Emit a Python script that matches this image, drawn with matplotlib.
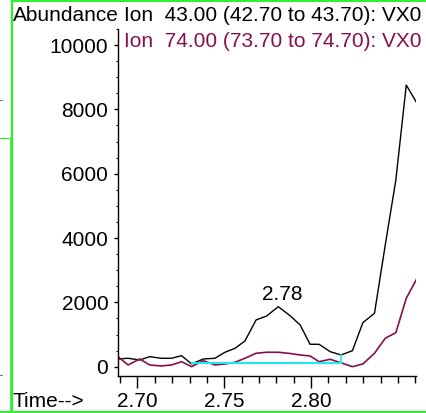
import matplotlib
matplotlib.use("Agg")
import matplotlib.pyplot as plt
from matplotlib.lines import Line2D
from matplotlib.ticker import MultipleLocator, FixedLocator

plt.rcParams["font.family"] = ["Liberation Sans", "DejaVu Sans"]

# retention time (min)
times = [2.6888, 2.6946, 2.7013, 2.7071, 2.7138, 2.7196, 2.7254, 2.7312, 2.7379, 2.7446,
         2.7504, 2.7562, 2.7619, 2.7683, 2.7744, 2.7811, 2.7879, 2.7937, 2.7994, 2.8046,
         2.8110, 2.8173, 2.8238, 2.8298, 2.8365, 2.8427, 2.8488, 2.8548, 2.8610]
ion43 = [239, 261, 208, 311, 261, 261, 342, 84, 239, 261,
         448, 572, 799, 1452, 1576, 1865, 1585, 1296, 696, 696,
         466, 364, 497, 1368, 1660, 3783, 5804, 8757, 8188]
ion74 = [311, 53, 239, 53, 22, 53, 155, 0, 187, 53,
         84, 137, 261, 417, 448, 448, 410, 364, 333, 155,
         230, 118, 0, 84, 417, 883, 1057, 2126, 2748]

# integration baseline of the 2.78 peak
base_t = [2.7312, 2.8175]
base_v = 106
base_end_v = 364

peak_label = "2.78"
legend_43 = "Ion  43.00 (42.70 to 43.70): VX0"
legend_74 = "Ion  74.00 (73.70 to 74.70): VX0"
yticks = [0, 2000, 4000, 6000, 8000, 10000]
xticks = [2.70, 2.75, 2.80]

PURPLE = "#85104f"
CYAN = "#20e8f0"
GREEN = "#2cf02c"
FS = 15

fig = plt.figure(figsize=(4.26, 4.13), dpi=100)
ax = fig.add_axes([0.277, 0.0896, 0.6995, 0.8402])

ax.plot(times, ion43, color="black", lw=1.0)
ax.plot(times, ion74, color=PURPLE, lw=1.2)
ax.plot(base_t, [base_v, base_v], color=CYAN, lw=1.5)
ax.plot([base_t[1], base_t[1]], [base_v, base_end_v], color=CYAN, lw=1.2)

pk = ion43.index(max(ion43[10:20]))
ax.annotate(peak_label, xy=(times[pk], ion43[pk]), xytext=(3, 5),
            textcoords="offset points", ha="center", va="baseline", fontsize=FS)

ax.set_xlim(2.6888, 2.8604)
ax.set_ylim(-290, 10500)
for s in ("top", "right"):
    ax.spines[s].set_visible(False)
ax.spines["left"].set_linewidth(1.0)
ax.spines["bottom"].set_linewidth(1.0)

ax.xaxis.set_major_locator(FixedLocator(xticks))
ax.xaxis.set_major_formatter(plt.FuncFormatter(lambda v, p: f"{v:.2f}"))
ax.xaxis.set_minor_locator(MultipleLocator(0.01))
ax.yaxis.set_major_locator(FixedLocator(yticks))
ax.yaxis.set_minor_locator(MultipleLocator(500))
ax.tick_params(axis="x", which="major", length=8.5, width=1.0, pad=3, labelsize=FS)
ax.tick_params(axis="x", which="minor", length=5, width=1.0)
ax.tick_params(axis="y", which="major", length=3, width=1.0, pad=4, labelsize=FS)
ax.tick_params(axis="y", which="minor", length=1.5, width=0.8)

fig.text(0.030, 0.949, "Abundance", fontsize=FS, va="baseline")
fig.text(0.2910, 0.949, legend_43, fontsize=FS, va="baseline", color="black")
fig.text(0.2910, 0.887, legend_74, fontsize=FS, va="baseline", color=PURPLE)
fig.text(0.030, 0.0153, "Time-->", fontsize=FS, va="baseline")

# window frame of the screenshot
W, H = 426.0, 413.0
def seg(x0, y0, x1, y1, c, lw):
    fig.add_artist(Line2D([x0 / W, x1 / W], [1 - y0 / H, 1 - y1 / H],
                          transform=fig.transFigure, color=c, lw=lw))

seg(11.5, 0, 11.5, 413, GREEN, 1.6)
seg(11.5, 1, 426, 1, GREEN, 1.4)
seg(0, 411.5, 426, 411.5, GREEN, 1.4)
seg(0, 137.5, 11.5, 137.5, GREEN, 0.8)
seg(10, 137.5, 10, 411.5, GREEN, 0.6)
seg(0, 100, 2, 100, "#555555", 0.6)
seg(0, 375, 2, 375, "#555555", 0.6)

fig.savefig("out.png", dpi=100)
